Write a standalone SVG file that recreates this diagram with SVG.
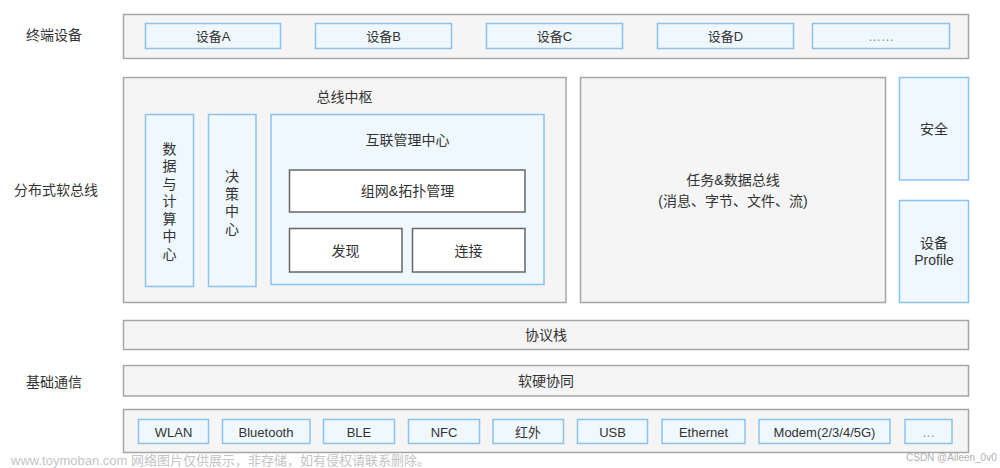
<svg xmlns="http://www.w3.org/2000/svg" width="1000" height="468" viewBox="0 0 1000 468">
<style>
text{font-family:"Liberation Sans","Noto Sans CJK SC",sans-serif;fill:#333;text-anchor:middle;dominant-baseline:central}
.g{fill:#f5f5f5;stroke:#a6a6a6;stroke-width:1.5}
.b{fill:#f0f8ff;stroke:#8cc2ee;stroke-width:1.5}
.w{fill:#fff;stroke:#666;stroke-width:1.5}
.t14{font-size:14px}
.t13{font-size:13px}
.lab{font-size:14px;text-anchor:start}
.wm{fill:#c4c4c4;font-size:13px;text-anchor:start}
.wm2{fill:#b0b0b0;font-size:10px;text-anchor:start}
</style>
<rect width="1000" height="468" fill="#fff"/>
<g id="labels">
<text class="lab" x="26" y="35">终端设备</text>
<text class="lab" x="14" y="190">分布式软总线</text>
<text class="lab" x="26" y="382">基础通信</text>
</g>
<g id="terminal">
<rect class="g" x="123.5" y="14.5" width="845" height="44"/>
<g id="devA"><rect class="b" x="145.5" y="23.5" width="135" height="25"/><text class="t13" x="213" y="36">设备A</text></g>
<g id="devB"><rect class="b" x="315.5" y="23.5" width="136" height="25"/><text class="t13" x="383.5" y="36">设备B</text></g>
<g id="devC"><rect class="b" x="486.5" y="23.5" width="136" height="25"/><text class="t13" x="554.5" y="36">设备C</text></g>
<g id="devD"><rect class="b" x="657.5" y="23.5" width="136" height="25"/><text class="t13" x="725.5" y="36">设备D</text></g>
<g id="devE"><rect class="b" x="812.5" y="23.5" width="137" height="25"/><text class="t13" x="881" y="36" style="fill:#888">……</text></g>
</g>
<g id="hub">
<rect class="g" x="123.5" y="77.5" width="442.5" height="225"/>
<text class="t14" x="344.5" y="97">总线中枢</text>
<g id="datacenter"><rect class="b" x="145.5" y="114.5" width="48" height="172"/>
<text class="t14" x="169.5"><tspan x="169.5" y="148.5">数</tspan><tspan x="169.5" y="166">据</tspan><tspan x="169.5" y="183.5">与</tspan><tspan x="169.5" y="201">计</tspan><tspan x="169.5" y="218.5">算</tspan><tspan x="169.5" y="236">中</tspan><tspan x="169.5" y="253.5">心</tspan></text></g>
<g id="decision"><rect class="b" x="208.5" y="114.5" width="47.5" height="172"/>
<text class="t14" x="232"><tspan x="232" y="176">决</tspan><tspan x="232" y="193.5">策</tspan><tspan x="232" y="211">中</tspan><tspan x="232" y="228.5">心</tspan></text></g>
<g id="interconnect"><rect class="b" x="271" y="114.5" width="273" height="170"/>
<text class="t14" x="407.5" y="140">互联管理中心</text>
<g id="topo"><rect class="w" x="289.5" y="170" width="235.5" height="42"/><text class="t14" x="407.5" y="191">组网&amp;拓扑管理</text></g>
<g id="discover"><rect class="w" x="289.5" y="228.5" width="112.5" height="43.5"/><text class="t14" x="345.5" y="250.5">发现</text></g>
<g id="connect"><rect class="w" x="412.5" y="228.5" width="112.5" height="43.5"/><text class="t14" x="468.5" y="250.5">连接</text></g>
</g>
</g>
<g id="taskbus"><rect class="g" x="580.5" y="77.5" width="305" height="225"/>
<text class="t14" x="733" y="180">任务&amp;数据总线</text>
<text class="t14" x="733" y="201">(消息、字节、文件、流)</text></g>
<g id="security"><rect class="b" x="899.5" y="77.5" width="69" height="102.5"/><text class="t14" x="934" y="129">安全</text></g>
<g id="profile"><rect class="b" x="899.5" y="200.5" width="69" height="102"/>
<text class="t14" x="934" y="243">设备</text><text class="t14" x="934" y="260">Profile</text></g>
<g id="protocol"><rect class="g" x="123.5" y="320.5" width="845" height="29"/><text class="t14" x="546" y="335">协议栈</text></g>
<g id="hwsw"><rect class="g" x="123.5" y="365.5" width="845" height="30.5"/><text class="t14" x="546" y="380.5">软硬协同</text></g>
<g id="comm">
<rect class="g" x="123.5" y="409.5" width="845" height="43"/>
<g id="wlan"><rect class="b" x="138.5" y="419.5" width="70" height="24"/><text class="t13" x="173.5" y="432">WLAN</text></g>
<g id="bt"><rect class="b" x="222.5" y="419.5" width="87.5" height="24"/><text class="t13" x="266" y="432">Bluetooth</text></g>
<g id="ble"><rect class="b" x="323.5" y="419.5" width="71" height="24"/><text class="t13" x="359" y="432">BLE</text></g>
<g id="nfc"><rect class="b" x="408.5" y="419.5" width="71" height="24"/><text class="t13" x="444" y="432">NFC</text></g>
<g id="ir"><rect class="b" x="493" y="419.5" width="70.5" height="24"/><text class="t13" x="528" y="432">红外</text></g>
<g id="usb"><rect class="b" x="577.5" y="419.5" width="70" height="24"/><text class="t13" x="612.5" y="432">USB</text></g>
<g id="eth"><rect class="b" x="662" y="419.5" width="83" height="24"/><text class="t13" x="703.5" y="432">Ethernet</text></g>
<g id="modem"><rect class="b" x="759" y="419.5" width="131" height="24"/><text class="t13" x="824.5" y="432">Modem(2/3/4/5G)</text></g>
<g id="more"><rect class="b" x="905" y="419.5" width="47" height="24"/><text class="t13" x="928.5" y="432" style="fill:#888">…</text></g>
</g>
<g id="connectors"/>
<text class="wm" x="11" y="460">www.toymoban.com 网络图片仅供展示，非存储，如有侵权请联系删除。</text>
<text class="wm2" x="906" y="457">CSDN @Aileen_0v0</text>
</svg>
